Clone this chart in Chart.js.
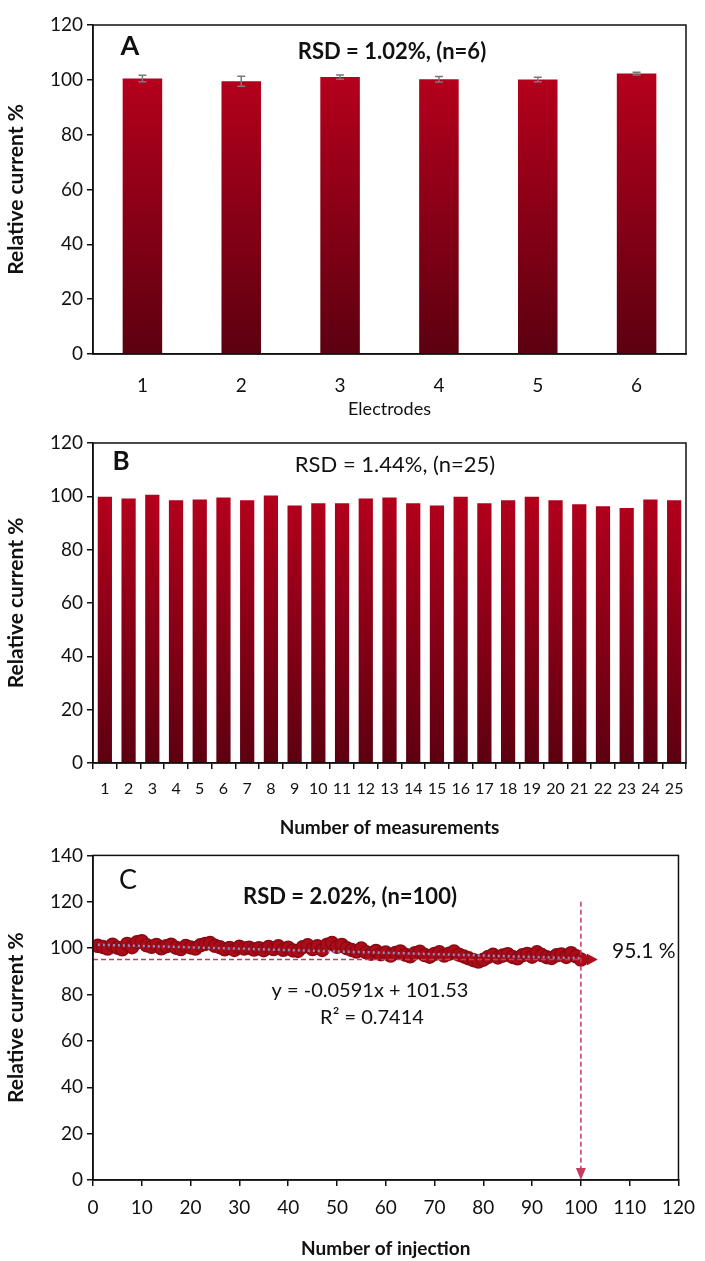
<!DOCTYPE html>
<html>
<head>
<meta charset="utf-8">
<script src="https://cdn.jsdelivr.net/npm/chart.js@4.4.1/dist/chart.umd.min.js"></script>
<style>
  html, body { margin: 0; padding: 0; background: #fff; }
  .panel { position: relative; width: 705px; }
  canvas { display: block; }
</style>
</head>
<body>
<div class="panel"><canvas id="chart-a" width="705" height="420"></canvas></div>
<div class="panel"><canvas id="chart-b" width="705" height="420"></canvas></div>
<div class="panel"><canvas id="chart-c" width="705" height="421"></canvas></div>
<script>
// (A) reproducibility between electrodes
const electrodes = ['1', '2', '3', '4', '5', '6'];
const electrodeCurrent = [100.5, 99.5, 101.0, 100.2, 100.1, 102.3];
const electrodeError = [1.2, 1.8, 0.8, 1.0, 0.8, 0.5];

// (B) repeatability, 25 measurements
const measurements = ['1', '2', '3', '4', '5', '6', '7', '8', '9', '10', '11', '12', '13',
  '14', '15', '16', '17', '18', '19', '20', '21', '22', '23', '24', '25'];
const measurementCurrent = [99.8, 99.2, 100.6, 98.5, 98.8, 99.6, 98.5, 100.3, 96.6, 97.4,
  97.4, 99.2, 99.6, 97.4, 96.6, 99.8, 97.4, 98.5, 99.8, 98.5, 97.0, 96.3, 95.6, 98.8, 98.5];

// (C) stability over 100 injections
const injectionCurrent = [
  101.0, 100.5, 99.8, 101.5, 100.2, 99.5, 101.8, 100.4, 102.5, 103.0,
  101.2, 100.6, 101.4, 99.9, 100.8, 101.5, 100.2, 99.6, 100.9, 100.3,
  99.8, 101.2, 101.8, 102.2, 101.0, 100.4, 99.5, 100.1, 99.2, 100.6,
  99.8, 100.2, 99.4, 100.0, 99.1, 100.5, 99.6, 100.8, 99.3, 100.2,
  99.0, 98.8, 100.4, 101.2, 99.6, 100.8, 99.2, 101.5, 102.2, 100.6,
  101.4, 100.0, 99.2, 98.5, 99.8, 98.2, 97.6, 98.8, 97.4, 98.1,
  96.8, 97.9, 98.6, 97.2, 96.5, 97.8, 98.4, 97.0, 96.3, 97.5,
  98.2, 96.8, 97.6, 98.5, 97.2, 96.4, 95.6, 94.8, 94.2, 95.0,
  96.2, 97.1, 96.0, 96.8, 97.4, 96.2, 95.6, 96.9, 97.5, 96.3,
  98.2, 97.0, 96.1, 95.8, 96.9, 97.3, 96.2, 97.8, 96.5, 95.1
];
const trendSlope = -0.0591;
const trendIntercept = 101.53;
const retainedCurrent = 95.1;
const lastInjection = 100;

const FONT = "Lato, 'Open Sans', sans-serif";
const BLACK = '#111';
const RED_TOP = '#b4001c';
const RED_BOTTOM = '#5c0010';
const DASH_RED = '#c43c5e';

Chart.defaults.font.family = FONT;
Chart.defaults.color = BLACK;
Chart.defaults.animation = false;

function barGradient(ctx) {
  const chart = ctx.chart;
  const area = chart.chartArea;
  if (!area) return RED_TOP;
  const g = chart.ctx.createLinearGradient(0, chart.scales.y.getPixelForValue(100), 0, area.bottom);
  g.addColorStop(0, RED_TOP);
  g.addColorStop(1, RED_BOTTOM);
  return g;
}

// box around the plot + free text labels placed relative to the chart area
function decorPlugin(texts) {
  return {
    id: 'decor',
    afterDraw(chart) {
      const c = chart.ctx;
      const a = chart.chartArea;
      c.save();
      c.strokeStyle = BLACK;
      c.lineWidth = 1.5;
      c.strokeRect(a.left, a.top, a.right - a.left, a.bottom - a.top);
      texts.forEach(t => {
        c.font = t.font;
        c.fillStyle = BLACK;
        c.textAlign = t.align || 'center';
        c.textBaseline = 'middle';
        c.fillText(t.text, t.x, t.y);
      });
      c.restore();
    }
  };
}

function yAxis(max, step, width) {
  return {
    min: 0,
    max: max,
    ticks: { stepSize: step, font: { size: 19 }, padding: 4, color: BLACK },
    grid: { drawOnChartArea: false, drawTicks: true, tickLength: 6, color: BLACK, lineWidth: 1.5 },
    border: { display: true, color: BLACK, width: 1.5 },
    title: { display: true, text: 'Relative current %', font: { size: 21, weight: 'bold' }, padding: { top: 4, bottom: 4 } },
    afterFit(scale) { scale.width = width; }
  };
}

// ---- A ----
const errorBars = {
  id: 'errorBars',
  afterDatasetsDraw(chart) {
    const c = chart.ctx;
    const meta = chart.getDatasetMeta(0);
    const y = chart.scales.y;
    c.save();
    c.strokeStyle = '#7a7a7a';
    c.lineWidth = 1.5;
    meta.data.forEach((bar, i) => {
      const hi = y.getPixelForValue(electrodeCurrent[i] + electrodeError[i]);
      const lo = y.getPixelForValue(electrodeCurrent[i] - electrodeError[i]);
      c.beginPath();
      c.moveTo(bar.x, hi); c.lineTo(bar.x, lo);
      c.moveTo(bar.x - 4, hi); c.lineTo(bar.x + 4, hi);
      c.moveTo(bar.x - 4, lo); c.lineTo(bar.x + 4, lo);
      c.stroke();
    });
    c.restore();
  }
};

new Chart(document.getElementById('chart-a'), {
  type: 'bar',
  data: {
    labels: electrodes,
    datasets: [{ data: electrodeCurrent, backgroundColor: barGradient, barPercentage: 0.4, categoryPercentage: 1 }]
  },
  options: {
    responsive: false,
    layout: { padding: { top: 25, right: 19, left: 0, bottom: 0 } },
    plugins: { legend: { display: false }, tooltip: { enabled: false } },
    scales: {
      x: {
        ticks: { font: { size: 19 }, padding: 12, color: BLACK },
        grid: { display: false },
        border: { display: true, color: BLACK, width: 1.5 },
        title: { display: true, text: 'Electrodes', font: { size: 18 }, padding: { top: 0, bottom: 0 } },
        afterFit(scale) { scale.height = 66; }
      },
      y: yAxis(120, 20, 93)
    }
  },
  plugins: [errorBars, decorPlugin([
    { text: 'A', x: 130, y: 46, font: `bold 27px ${FONT}` },
    { text: 'RSD = 1.02%, (n=6)', x: 392, y: 52, font: `bold 22px ${FONT}` }
  ])]
});

// ---- B ----
new Chart(document.getElementById('chart-b'), {
  type: 'bar',
  data: {
    labels: measurements,
    datasets: [{ data: measurementCurrent, backgroundColor: barGradient, barPercentage: 0.6, categoryPercentage: 1 }]
  },
  options: {
    responsive: false,
    layout: { padding: { top: 23, right: 19, left: 0, bottom: 0 } },
    plugins: { legend: { display: false }, tooltip: { enabled: false } },
    scales: {
      x: {
        ticks: { font: { size: 16 }, padding: 10, color: BLACK, autoSkip: false, maxRotation: 0 },
        grid: { offset: true, drawOnChartArea: false, drawTicks: true, tickLength: 6, color: BLACK, lineWidth: 1.5 },
        border: { display: true, color: BLACK, width: 1.5 },
        title: { display: true, text: 'Number of measurements', font: { size: 19, weight: 'bold' }, padding: { top: 0, bottom: 1 } },
        afterFit(scale) { scale.height = 77; }
      },
      y: yAxis(120, 20, 93)
    }
  },
  plugins: [decorPlugin([
    { text: 'B', x: 121, y: 462 - 420, font: `bold 26px ${FONT}` },
    { text: 'RSD = 1.44%, (n=25)', x: 395, y: 465 - 420, font: `22px ${FONT}` }
  ])]
});

// ---- C ----
const retentionMarks = {
  id: 'retentionMarks',
  afterDatasetsDraw(chart) {
    const c = chart.ctx;
    const x = chart.scales.x;
    const y = chart.scales.y;
    const yr = y.getPixelForValue(retainedCurrent);
    const xr = x.getPixelForValue(lastInjection);
    c.save();
    c.strokeStyle = DASH_RED;
    c.lineWidth = 1.5;
    c.setLineDash([5, 3]);
    c.beginPath();
    c.moveTo(x.getPixelForValue(0), yr); c.lineTo(xr, yr);
    c.moveTo(xr, y.getPixelForValue(120)); c.lineTo(xr, y.getPixelForValue(0) - 10);
    c.stroke();
    c.setLineDash([]);
    // arrow head down to the x axis
    c.fillStyle = DASH_RED;
    const y0 = y.getPixelForValue(0);
    c.beginPath();
    c.moveTo(xr - 5, y0 - 12); c.lineTo(xr + 5, y0 - 12); c.lineTo(xr, y0);
    c.closePath(); c.fill();
    // arrow head at the end of the series
    c.fillStyle = '#b00d1a';
    const xa = x.getPixelForValue(lastInjection + 1.2);
    c.beginPath();
    c.moveTo(xa, yr - 6); c.lineTo(xa, yr + 6); c.lineTo(xa + 11, yr);
    c.closePath(); c.fill();
    c.restore();
  }
};

new Chart(document.getElementById('chart-c'), {
  type: 'scatter',
  data: {
    datasets: [
      {
        type: 'line',
        data: [
          { x: 1, y: trendSlope * 1 + trendIntercept },
          { x: lastInjection, y: trendSlope * lastInjection + trendIntercept }
        ],
        borderColor: '#8e8ec4',
        borderWidth: 2.5,
        borderDash: [2, 3],
        pointRadius: 0,
        fill: false,
        order: 0
      },
      {
        data: injectionCurrent.map((v, i) => ({ x: i + 1, y: v })),
        backgroundColor: '#ac0c18',
        borderColor: '#8a0a14',
        pointRadius: 6.5,
        showLine: true,
        borderWidth: 1.5,
        order: 1
      }
    ]
  },
  options: {
    responsive: false,
    layout: { padding: { top: 8, right: 19, left: 0, bottom: 0 } },
    plugins: { legend: { display: false }, tooltip: { enabled: false } },
    scales: {
      x: {
        type: 'linear',
        min: 0,
        max: 120,
        ticks: { stepSize: 10, font: { size: 19 }, padding: 10, color: BLACK },
        grid: { drawOnChartArea: false, drawTicks: true, tickLength: 6, color: BLACK, lineWidth: 1.5 },
        border: { display: true, color: BLACK, width: 1.5 },
        title: { display: true, text: 'Number of injection', font: { size: 19, weight: 'bold' }, padding: { top: 0, bottom: 1 } },
        afterFit(scale) { scale.height = 81; }
      },
      y: yAxis(140, 20, 93)
    }
  },
  plugins: [retentionMarks, decorPlugin([
    { text: 'C', x: 128, y: 880 - 840, font: `27px ${FONT}` },
    { text: 'RSD = 2.02%, (n=100)', x: 350, y: 897 - 840, font: `bold 22px ${FONT}` },
    { text: '95.1 %', x: 612, y: 951 - 840, font: `21px ${FONT}`, align: 'left' },
    { text: 'y = -0.0591x + 101.53', x: 370, y: 991 - 840, font: `20px ${FONT}` },
    { text: 'R² = 0.7414', x: 372, y: 1018 - 840, font: `20px ${FONT}` }
  ])]
});
</script>
</body>
</html>
